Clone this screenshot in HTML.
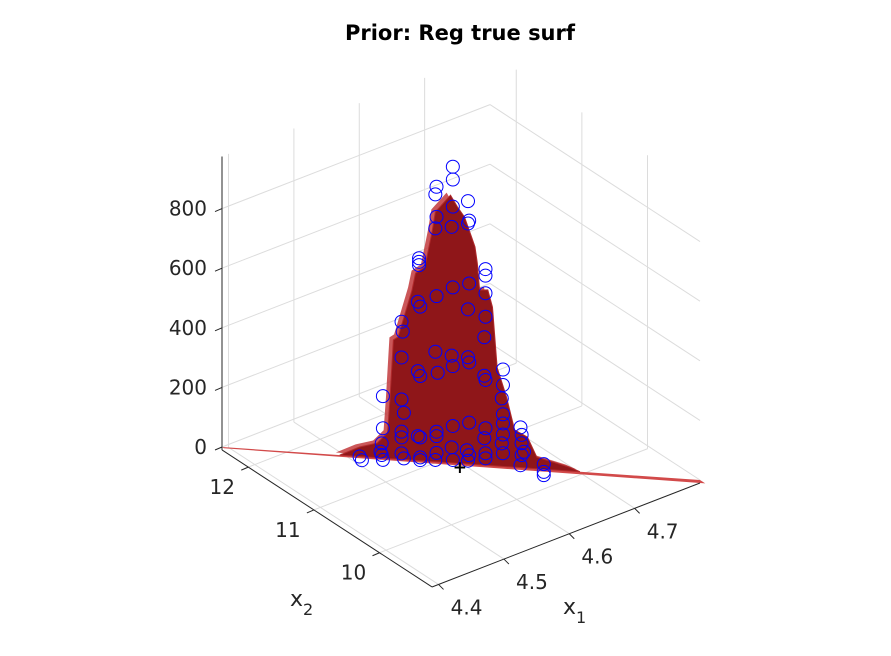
<!DOCTYPE html>
<html><head><meta charset="utf-8">
<style>
html,body{margin:0;padding:0;background:#fff;}
svg{display:block;font-family:"DejaVu Sans","Liberation Sans",sans-serif;}
</style></head>
<body>
<svg id="chart" width="891" height="656" viewBox="0 0 891 656" xmlns="http://www.w3.org/2000/svg">
<rect x="0" y="0" width="891" height="656" fill="#fff"/>
<text x="460" y="40" text-anchor="middle" font-size="21" font-weight="bold" fill="#000">Prior: Reg true surf</text>
<g id="grid"></g>
<g id="surf"></g>
<g id="pts"></g>
<g id="axes"></g>
<text x="563" y="614" font-size="22" fill="#262626">x<tspan font-size="16" dy="9">1</tspan></text>
<text x="290" y="606" font-size="22" fill="#262626">x<tspan font-size="16" dy="9">2</tspan></text>
</svg>
<script>
// ---- data ----
const x1Ticks = [4.4, 4.5, 4.6, 4.7];
const x1TickLabels = ["4.4", "4.5", "4.6", "4.7"];
const x2Ticks = [10, 11, 12];
const x2TickLabels = ["10", "11", "12"];
const zTicks = [0, 200, 400, 600, 800];
const zTickLabels = ["0", "200", "400", "600", "800"];
// surface ridge profile (along the x1/x2 diagonal)
const profX1 = [4.491,4.508,4.523,4.532,4.534,4.537,4.541,4.553,4.556,4.564,4.570,4.573,4.586,4.592,4.598,4.604,4.607,4.609,4.611,4.618,4.622,4.626,4.634,4.641,4.652,4.660,4.688,4.697];
const profZ  = [0,32,49,86,197,399,410,571,628,651,767,838,898,860,828,763,730,676,586,589,532,331,234,125,104,39,13,0];
// scatter observations
const ptX1 = [4.588,4.588,4.574,4.573,4.601,4.588,4.574,4.602,4.601,4.573,4.587,4.559,4.559,4.559,4.616,4.616,4.588,4.602,4.574,4.616,4.558,4.560,4.601,4.616,4.544,4.545,4.615,4.573,4.587,4.601,4.588,4.602,4.544,4.558,4.560,4.575,4.615,4.616,4.631,4.631,4.528,4.544,4.546,4.630,4.631,4.528,4.544,4.544,4.558,4.560,4.574,4.574,4.588,4.602,4.616,4.615,4.631,4.631,4.630,4.646,4.647,4.647,4.649,4.508,4.510,4.527,4.527,4.528,4.544,4.546,4.560,4.560,4.574,4.573,4.587,4.588,4.600,4.602,4.601,4.616,4.616,4.631,4.646,4.666,4.666,4.666,4.647,4.526];
const ptZ = [994,951,923,897,882,860,822,817,807,783,792,679,667,656,658,636,589,606,556,577,533,517,519,498,462,429,429,369,360,358,325,341,342,300,284,299,300,286,325,273,208,201,157,228,175,100,93,74,82,78,101,86,124,139,124,90,144,107,77,135,110,82,54,0,-12,49,10,-6,20,4,11,2,30,6,52,10,46,30,11,40,23,44,8,17,-9,-20,42,21];
const markX1 = [4.594];
const markZ = [-12];

// ---- projection ----
const X1MIN=4.39, X1MAX=4.80, X2MIN=9.2, X2MAX=12.4, ZMIN=-10, ZMAX=975;
function P(x1,x2,z){
  const t1=(x1-X1MIN)/(X1MAX-X1MIN), t2=(x2-X2MIN)/(X2MAX-X2MIN);
  return [432+268*t1-210*t2, 584-104*t1-137*t2-z*0.298];
}
function diagX2(x1){ return X2MAX-(X2MAX-X2MIN)*(x1-X1MIN)/(X1MAX-X1MIN); }
const NS="http://www.w3.org/2000/svg";
function mk(tag,attrs,parent){const e=document.createElementNS(NS,tag);for(const k in attrs)e.setAttribute(k,attrs[k]);parent.appendChild(e);return e;}
function line(a,b,stroke,w,parent){return mk('line',{x1:a[0],y1:a[1],x2:b[0],y2:b[1],stroke:stroke,'stroke-width':w},parent);}
const grid=document.getElementById('grid'), surf=document.getElementById('surf'), pts=document.getElementById('pts'), axes=document.getElementById('axes');
const GC="#dcdcdc";

x1Ticks.forEach(v=>{const l=line(P(v,X2MIN,ZMIN),P(v,X2MAX,ZMIN),GC,1,grid);

});
x2Ticks.forEach(v=>{const l=line(P(X1MIN,v,ZMIN),P(X1MAX,v,ZMIN),GC,1,grid);

});
x1Ticks.forEach(v=>{const l=line(P(v,X2MAX,ZMIN),P(v,X2MAX,ZMAX),GC,1,grid);

});
zTicks.forEach(v=>{const l=line(P(X1MIN,X2MAX,v),P(X1MAX,X2MAX,v),GC,1,grid);

});
x2Ticks.forEach(v=>{const l=line(P(X1MAX,v,ZMIN),P(X1MAX,v,ZMAX),GC,1,grid);

});
zTicks.forEach(v=>{const l=line(P(X1MAX,X2MIN,v),P(X1MAX,X2MAX,v),GC,1,grid);

});

(function(){
  const a=P(X1MIN,X2MAX,0), b=P(X1MAX,X2MIN,0);
  const c=P(X1MAX,X2MIN-0.08,0), d=P(X1MIN,X2MAX-0.03,0);
  const s=mk('polygon',{points:[a,b,c,d].map(p=>p.join(',')).join(' '),fill:'#d24a4a'},surf);
  
  
})();
function profilePts(dx2,dz){
  const arr=profX1.map((x,i)=>P(x,diagX2(x)+dx2,profZ[i]+dz));
  return arr.map(p=>p.join(',')).join(' ');
}
const back=mk('polygon',{points:profilePts(0.06,0),fill:'#c23a3c','fill-opacity':'0.85'},surf);


const front=mk('polygon',{points:profilePts(0,0),fill:'#8f1619',stroke:'#b02a2c','stroke-width':1},surf);



ptX1.forEach((x,i)=>{
  const p=P(x,diagX2(x),ptZ[i]);
  const c=mk('circle',{cx:p[0],cy:p[1],r:6.5,fill:'none',stroke:'#0000ff','stroke-width':1},pts);
  
  
});
markX1.forEach((x,i)=>{
  const p=P(x,diagX2(x),markZ[i]);
  const t=mk('text',{x:p[0],y:p[1]+6,'text-anchor':'middle','font-size':17,'font-weight':'bold',fill:'#000'},pts);
  t.textContent='+';
  
  
});

const AC="#262626";
const zA=line(P(X1MIN,X2MAX,ZMIN),P(X1MIN,X2MAX,ZMAX),AC,1,axes);


const x1A=line(P(X1MIN,X2MIN,ZMIN),P(X1MAX,X2MIN,ZMIN),AC,1,axes);


const x2A=line(P(X1MIN,X2MIN,ZMIN),P(X1MIN,X2MAX,ZMIN),AC,1,axes);



zTicks.forEach((v,i)=>{
  const p=P(X1MIN,X2MAX,v);
  const l=line(p,[p[0]-7,p[1]+3],AC,1,axes);
  
  
  const t=mk('text',{x:p[0]-15,y:p[1]+7,'text-anchor':'end','font-size':20,fill:AC},axes);
  t.textContent=zTickLabels[i];
  
  
});
x1Ticks.forEach((v,i)=>{
  const p=P(v,X2MIN,ZMIN);
  const l=line(p,[p[0]+5,p[1]+5],AC,1,axes);
  
  
  const t=mk('text',{x:p[0]+28,y:p[1]+30,'text-anchor':'middle','font-size':20,fill:AC},axes);
  t.textContent=x1TickLabels[i];
  
  
});
x2Ticks.forEach((v,i)=>{
  const p=P(X1MIN,v,ZMIN);
  const l=line(p,[p[0]-7,p[1]+3],AC,1,axes);
  
  
  const t=mk('text',{x:p[0]-26,y:p[1]+27,'text-anchor':'middle','font-size':20,fill:AC},axes);
  t.textContent=x2TickLabels[i];
  
  
});
</script>
</body></html>
